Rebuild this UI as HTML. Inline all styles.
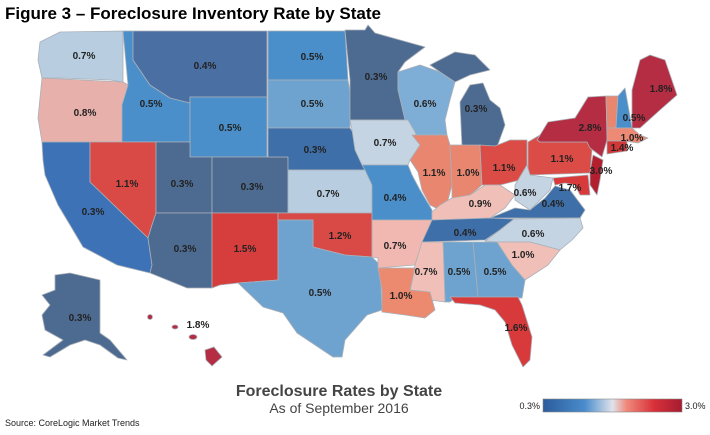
<!DOCTYPE html>
<html><head><meta charset="utf-8"><style>
html,body{margin:0;padding:0;background:#fff;}
body{width:710px;height:435px;overflow:hidden;position:relative;font-family:"Liberation Sans",Arial,sans-serif;}
svg{position:absolute;left:0;top:0;}
</style></head><body>
<svg width="710" height="435" viewBox="0 0 710 435" xmlns="http://www.w3.org/2000/svg">
<defs>
<linearGradient id="lg" x1="0" x2="1" y1="0" y2="0">
<stop offset="0" stop-color="#2b5c9c"/><stop offset="0.3" stop-color="#4a8ccc"/>
<stop offset="0.5" stop-color="#dfe3ea"/><stop offset="0.6" stop-color="#f08a7c"/>
<stop offset="0.8" stop-color="#d8303a"/><stop offset="1" stop-color="#a51c30"/>
</linearGradient>
</defs>
<text x="5" y="19" font-size="17" font-weight="bold" fill="#000">Figure 3 – Foreclosure Inventory Rate by State</text>
<g stroke="#a9b0b8" stroke-width="0.8" stroke-linejoin="round">
<polygon fill="#b8cde0" points="40,42 60,32 123,31 123,82 110,80 60,78 42,78 38,60"/>
<polygon fill="#e8b0aa" points="42,78 123,82 128,85 122,105 122,142 42,142 38,118"/>
<polygon fill="#4a8fca" points="123,31 133,31 133,60 150,85 170,98 190,103 190,142 122,142 122,105 128,85"/>
<polygon fill="#4a6fa3" points="133,31 267,31 267,97 190,97 190,103 170,98 150,85 133,60"/>
<polygon fill="#4a8fca" points="190,97 267,97 267,157 190,157"/>
<polygon fill="#3d72b6" points="42,142 90,142 90,182 148,238 152,265 150,273 117,265 83,247 70,225 58,205 45,175 43,160"/>
<polygon fill="#d94a46" points="90,142 156,142 156,213 152,225 148,238 90,182"/>
<polygon fill="#4d6b91" points="156,142 190,142 190,157 212,157 212,213 156,213"/>
<polygon fill="#4d6b91" points="212,157 288,157 288,213 212,213"/>
<polygon fill="#4d6b91" points="156,213 212,213 212,288 187,288 150,273 152,265 148,238 152,225"/>
<polygon fill="#d63e3e" points="212,213 278,213 278,280 238,283 220,285 212,288"/>
<polygon fill="#4a8fca" points="268,31 345,31 348,80 268,80"/>
<polygon fill="#6fa3cf" points="268,80 348,80 350,92 350,128 268,128"/>
<polygon fill="#3f6fa8" points="268,128 350,128 358,140 365,170 288,170 288,157 268,157"/>
<polygon fill="#b8cde0" points="288,170 365,170 372,185 372,213 288,213"/>
<polygon fill="#d94a46" points="278,213 372,213 372,257 345,255 313,247 313,220 278,220"/>
<polygon fill="#6fa3cf" points="278,220 313,220 313,247 345,255 372,257 380,265 382,310 367,315 345,340 342,357 333,357 297,333 283,313 263,307 238,283 278,280"/>
<polygon fill="#4d6b91" points="345,30 365,30 368,25 375,33 425,47 405,62 398,72 398,90 405,100 408,120 350,120 350,80 347,50"/>
<polygon fill="#7eaed6" points="398,72 420,65 440,72 455,82 450,100 445,120 447,135 412,135 405,120 398,90"/>
<polygon fill="#4d6b91" points="460,102 470,85 483,83 490,100 500,108 505,125 497,147 462,147"/>
<polygon fill="#4d6b91" points="430,65 455,52 475,55 490,70 470,75 455,82 440,72"/>
<polygon fill="#c4d4e3" points="350,120 408,120 415,132 420,145 410,160 408,165 362,165 355,150 352,130"/>
<polygon fill="#4a8fca" points="362,165 408,165 412,175 420,190 432,210 432,220 372,220 372,185 365,170"/>
<polygon fill="#e88670" points="412,135 447,135 450,145 452,185 448,200 440,210 430,205 422,190 418,172 410,160 420,145"/>
<polygon fill="#e88670" points="450,145 480,145 482,185 470,195 452,200 452,185"/>
<polygon fill="#dc4c46" points="480,145 495,146 510,140 527,140 527,165 520,180 500,185 482,185"/>
<polygon fill="#dc4c46" points="528,142 540,135 540,142 587,142 592,150 590,173 528,175"/>
<polygon fill="#b52d42" points="537,140 548,122 575,118 588,97 606,96 607,140 602,157 590,148 587,142 540,142"/>
<polygon fill="#e88670" points="606,96 618,96 616,128 607,128"/>
<polygon fill="#4a8fca" points="618,96 625,88 632,128 616,128"/>
<polygon fill="#b52d42" points="632,90 640,60 650,55 665,60 677,95 660,110 640,128 632,128"/>
<polygon fill="#ec8a76" points="607,128 632,128 640,135 648,138 638,143 625,141 607,141"/>
<polygon fill="#d23838" points="607,141 627,141 627,151 607,154"/>
<polygon fill="#b22030" points="593,155 603,160 600,180 597,195 590,185 590,172"/>
<polygon fill="#d83a3c" points="553,178 588,175 590,195 580,195 575,185 565,183 555,185"/>
<polygon fill="#c4d4e3" points="515,185 527,165 530,175 553,178 550,190 540,200 530,210 515,200"/>
<polygon fill="#3f6fa8" points="490,218 515,208 530,210 545,198 555,186 570,190 585,210 580,218"/>
<polygon fill="#f0c0b8" points="432,212 440,205 452,198 470,195 485,185 500,185 515,195 505,208 490,218 432,220"/>
<polygon fill="#3f6fa8" points="422,220 432,220 490,218 514,219 500,230 485,240 422,242"/>
<polygon fill="#c4d4e3" points="485,241 500,230 514,219 580,218 583,228 572,240 560,250 545,246 530,242 497,242"/>
<polygon fill="#f0c0b8" points="497,242 530,242 545,246 560,250 548,265 525,280 512,265"/>
<polygon fill="#6fa3cf" points="473,242 497,242 512,265 525,280 522,298 478,298"/>
<polygon fill="#6fa3cf" points="443,242 473,242 478,298 455,298 450,302 445,302"/>
<polygon fill="#f0c0b8" points="420,242 443,242 445,302 430,300 410,292 415,265"/>
<polygon fill="#f0b8b0" points="372,220 432,220 422,242 415,265 378,268 378,258 372,257"/>
<polygon fill="#ec8a70" points="378,268 415,268 410,290 430,292 435,310 425,318 405,315 382,312 382,290"/>
<polygon fill="#d83a3c" points="450,297 518,297 522,305 532,337 530,360 523,367 512,345 505,322 495,310 480,305 455,303"/>
<polygon fill="#4d6b91" points="55,275 70,273 100,280 100,333 110,340 127,360 118,358 100,345 85,340 70,345 50,357 43,355 63,340 45,330 42,315 50,305 42,295 55,290"/>
<g fill="#b52d42"><circle cx="150" cy="317" r="2.5"/><ellipse cx="175" cy="327" rx="3" ry="2"/><ellipse cx="193" cy="337" rx="4" ry="2.5"/><polygon points="205,350 214,347 222,357 212,366 206,360"/></g>
</g>
<g font-size="10" font-weight="bold" fill="#222" text-anchor="middle">
<text x="84" y="59">0.7%</text><text x="85" y="116">0.8%</text><text x="93" y="215">0.3%</text>
<text x="127" y="187">1.1%</text><text x="151" y="107">0.5%</text><text x="205" y="69">0.4%</text>
<text x="230" y="131">0.5%</text><text x="182" y="187">0.3%</text><text x="252" y="190">0.3%</text>
<text x="312" y="60">0.5%</text><text x="312" y="107">0.5%</text><text x="315" y="153">0.3%</text>
<text x="328" y="197">0.7%</text><text x="340" y="239">1.2%</text><text x="320" y="296">0.5%</text>
<text x="245" y="252">1.5%</text><text x="185" y="252">0.3%</text><text x="376" y="80">0.3%</text>
<text x="425" y="107">0.6%</text><text x="476" y="112">0.3%</text><text x="385" y="146">0.7%</text>
<text x="434" y="176">1.1%</text><text x="468" y="176">1.0%</text><text x="504" y="171">1.1%</text>
<text x="562" y="162">1.1%</text><text x="590" y="131">2.8%</text><text x="661" y="92">1.8%</text>
<text x="634" y="121">0.5%</text><text x="632" y="141">1.0%</text><text x="622" y="151">1.4%</text>
<text x="601" y="174">3.0%</text><text x="570" y="191">1.7%</text><text x="525" y="196">0.6%</text>
<text x="553" y="207">0.4%</text><text x="480" y="207">0.9%</text><text x="395" y="201">0.4%</text>
<text x="395" y="249">0.7%</text><text x="465" y="236">0.4%</text><text x="533" y="237">0.6%</text>
<text x="523" y="258">1.0%</text><text x="495" y="275">0.5%</text><text x="459" y="275">0.5%</text>
<text x="426" y="275">0.7%</text><text x="401" y="299">1.0%</text><text x="516" y="331">1.6%</text>
<text x="80" y="321">0.3%</text><text x="198" y="328">1.8%</text>
</g>
<text x="339" y="396" font-size="16" font-weight="bold" fill="#444" text-anchor="middle">Foreclosure Rates by State</text>
<text x="339" y="413" font-size="14" fill="#444" text-anchor="middle">As of September 2016</text>
<text x="5" y="426" font-size="9" fill="#222">Source: CoreLogic Market Trends</text>
<rect x="543" y="399" width="139" height="13" fill="url(#lg)" stroke="#888" stroke-width="0.6"/>
<text x="540" y="409" font-size="9" fill="#222" text-anchor="end">0.3%</text>
<text x="685" y="409" font-size="9" fill="#222">3.0%</text>
</svg>
</body></html>
